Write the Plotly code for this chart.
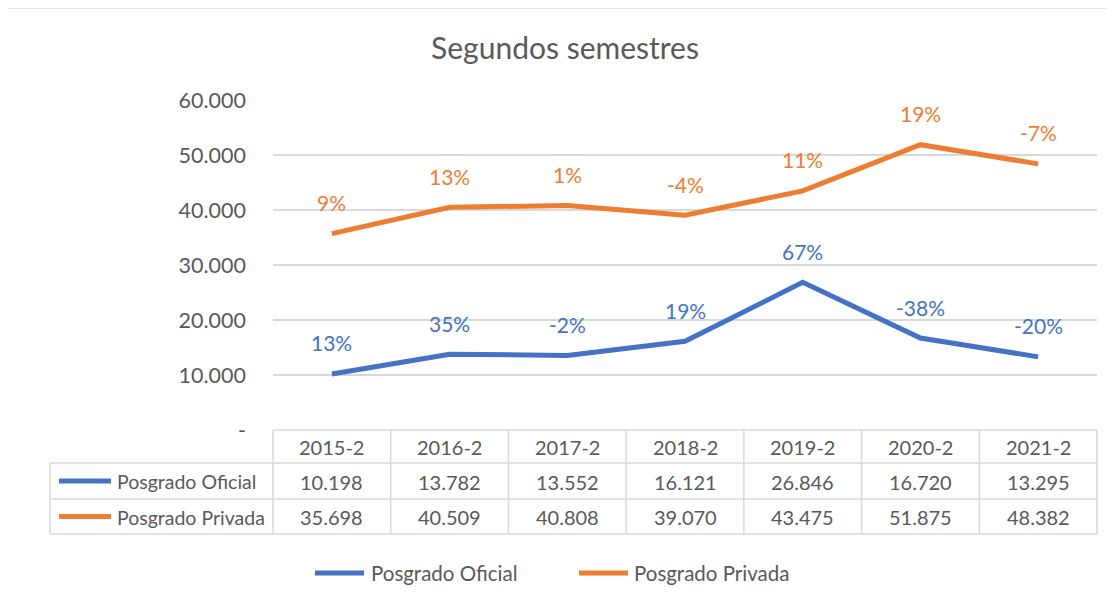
import plotly.graph_objects as go

categories = ["2015-2", "2016-2", "2017-2", "2018-2", "2019-2", "2020-2", "2021-2"]
oficial = [10198, 13782, 13552, 16121, 26846, 16720, 13295]
privada = [35698, 40509, 40808, 39070, 43475, 51875, 48382]
oficial_labels = ["13%", "35%", "-2%", "19%", "67%", "-38%", "-20%"]
privada_labels = ["9%", "13%", "1%", "-4%", "11%", "19%", "-7%"]
series_names = ["Posgrado Oficial", "Posgrado Privada"]
y_ticks = [0, 10000, 20000, 30000, 40000, 50000, 60000]
title_text = "Segundos semestres"

BLUE = "#4472C4"
ORANGE = "#ED7D31"
TXT = "#595959"
GRID = "#D9D9D9"
FONT = "Lato"
OFF = 8  # browser default body margin


def fmt(v):
    return f"{v:,}".replace(",", ".") if v else "-"


fig = go.Figure()
for name, vals, col in [(series_names[0], oficial, BLUE), (series_names[1], privada, ORANGE)]:
    fig.add_trace(go.Scatter(x=categories, y=vals, mode="lines", name=name,
                             line=dict(color=col, width=5), showlegend=False,
                             hoverinfo="x+y+name"))

annotations = []
shapes = []

# percentage labels
for vals, labs, col in [(oficial, oficial_labels, BLUE), (privada, privada_labels, ORANGE)]:
    for c, v, t in zip(categories, vals, labs):
        annotations.append(dict(x=c, y=v, xref="x", yref="y", text=t, showarrow=False,
                                yshift=31, xanchor="center", yanchor="middle",
                                font=dict(family=FONT, size=21, color=col)))

# data table geometry (paper coords), pixel values are page pixels of the reference
H = 330.0
W = 824.0
def py(pix):
    return (430 - pix) / H
def px(pix):
    return (pix - 273) / W

row_tops = [430, 463, 499, 534]
left_x = px(50)
line_style = dict(color=GRID, width=1.5)

shapes.append(dict(type="line", xref="paper", yref="paper", x0=0, x1=1, y0=py(430), y1=py(430), line=line_style, layer="below"))
for yy in row_tops[1:]:
    shapes.append(dict(type="line", xref="paper", yref="paper", x0=left_x, x1=1, y0=py(yy), y1=py(yy), line=line_style))
ncat = len(categories)
for k in range(ncat + 1):
    shapes.append(dict(type="line", xref="paper", yref="paper", x0=k / ncat, x1=k / ncat,
                       y0=py(430), y1=py(534), line=line_style))
shapes.append(dict(type="line", xref="paper", yref="paper", x0=left_x, x1=left_x,
                   y0=py(463), y1=py(534), line=line_style))

cell_font = dict(family=FONT, size=20, color=TXT)
for c in categories:
    annotations.append(dict(x=c, y=py(447), xref="x", yref="paper", text=c, showarrow=False,
                            xanchor="center", yanchor="middle", font=cell_font))
for vals, yy in [(oficial, 481.5), (privada, 517)]:
    for c, v in zip(categories, vals):
        annotations.append(dict(x=c, y=py(yy), xref="x", yref="paper", text=fmt(v), showarrow=False,
                                xanchor="center", yanchor="middle", font=cell_font))
for name, col, yy in [(series_names[0], BLUE, 481), (series_names[1], ORANGE, 516.5)]:
    shapes.append(dict(type="line", xref="paper", yref="paper", x0=px(59), x1=px(111), y0=py(yy), y1=py(yy),
                       line=dict(color=col, width=5)))
    annotations.append(dict(x=px(115), y=py(yy + 0.5), xref="paper", yref="paper", text=name, showarrow=False,
                            xanchor="left", yanchor="middle", font=dict(family=FONT, size=19.5, color=TXT)))

# bottom legend
for name, col, x0, x1, xt in [(series_names[0], BLUE, 315, 364, 369), (series_names[1], ORANGE, 579, 628, 632)]:
    shapes.append(dict(type="line", xref="paper", yref="paper", x0=px(x0), x1=px(x1), y0=py(573), y1=py(573),
                       line=dict(color=col, width=5)))
    annotations.append(dict(x=px(xt), y=py(573), xref="paper", yref="paper", text=name, showarrow=False,
                            xanchor="left", yanchor="middle", font=dict(family=FONT, size=20.5, color=TXT)))

# outer chart border
shapes.append(dict(type="rect", xref="paper", yref="paper", x0=px(5), x1=px(1200), y0=py(8), y1=py(700),
                   line=dict(color=GRID, width=1.5)))

FW, FH = 1115 - OFF, 602 - OFF
fig.update_layout(
    width=FW, height=FH,
    margin=dict(l=273 - OFF, r=18, t=100 - OFF, b=172, pad=0),
    paper_bgcolor="white", plot_bgcolor="white",
    title=dict(text=title_text, x=(565 - OFF) / FW, xanchor="center", y=1 - (48 - OFF) / FH, yanchor="middle",
               font=dict(family=FONT, size=30, color=TXT)),
    xaxis=dict(type="category", range=[-0.5, ncat - 0.5], showticklabels=False, showgrid=False,
               zeroline=False, showline=False, ticks=""),
    yaxis=dict(range=[0, 60000], tickvals=y_ticks, ticktext=[fmt(v) for v in y_ticks],
               showgrid=True, gridcolor=GRID, gridwidth=1.5, zeroline=False, showline=False,
               ticks="", ticklabelstandoff=26, tickfont=dict(family=FONT, size=21.5, color=TXT)),
    annotations=annotations, shapes=shapes, showlegend=False,
    font=dict(family=FONT, color=TXT),
)

fig.write_html("out.html")
